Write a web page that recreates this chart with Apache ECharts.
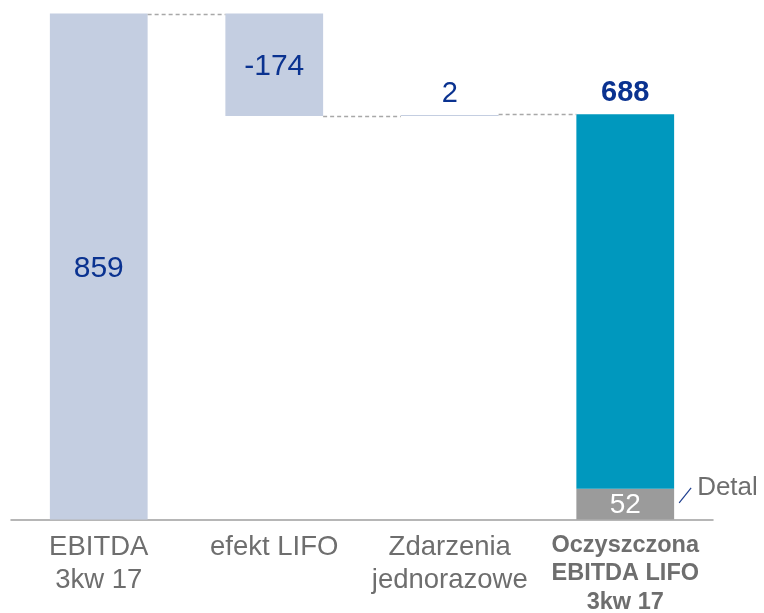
<!DOCTYPE html>
<html>
<head>
<meta charset="utf-8">
<script src="https://cdn.jsdelivr.net/npm/echarts@6/dist/echarts.min.js"></script>
<style>html,body{margin:0;padding:0;background:#fff;}#c{width:764px;height:613px;}</style>
</head>
<body>
<div id="c"></div>
<script>
var categories = ['EBITDA\n3kw 17', 'efekt LIFO', 'Zdarzenia\njednorazowe', 'Oczyszczona\nEBITDA LIFO\n3kw 17'];
var values = [859, -174, 2, 688];
var labelInside = [true, true, false, false];
var detalValue = 52;
var detalName = 'Detal';

var FONT = '"Liberation Sans", Arial, sans-serif';
var LIGHT = '#C4CEE1';
var TEAL = '#0098BE';
var GREY = '#9B9B9B';
var LABEL_BLUE = '#0A3290';
var AXIS_TEXT = '#6E6E6E';

// waterfall computation
var base = [], delta = [], levels = [];
var run = 0;
for (var i = 0; i < values.length; i++) {
  if (i === values.length - 1) {
    base.push(0); delta.push('-'); levels.push(values[i]);
  } else if (i === 0) {
    base.push(0); delta.push(values[i]); run = values[i]; levels.push(run);
  } else {
    var v = values[i];
    if (v < 0) { base.push(run + v); delta.push(-v); }
    else { base.push(run); delta.push(v); }
    run += v; levels.push(run);
  }
}
var last = values.length - 1;
var deltaItems = delta.map(function (d, i) {
  return {
    value: d,
    label: labelInside[i]
      ? { position: 'inside', fontSize: 30, offset: [0, 2] }
      : { position: 'top', distance: 6, fontSize: 29, lineHeight: 30 }
  };
});
var detalData = categories.map(function (c, i) { return i === last ? detalValue : '-'; });
var totalData = categories.map(function (c, i) { return i === last ? values[i] - detalValue : '-'; });
var connectorData = [];
for (var j = 0; j < values.length - 1; j++) {
  connectorData.push([j, j === values.length - 2 ? values[last] : levels[j]]);
}

var BAR_FRAC = 0.557;
var chart = echarts.init(document.getElementById('c'));
chart.setOption({
  animation: false,
  textStyle: { fontFamily: FONT },
  grid: { left: 11, right: 51, top: 13, bottom: 93.5, containLabel: false, outerBoundsMode: 'none' },
  xAxis: {
    type: 'category',
    data: categories,
    axisTick: { show: false },
    axisLine: { lineStyle: { color: '#9E9E9E', width: 1.5 } },
    axisLabel: {
      interval: 0,
      margin: 11.5,
      color: AXIS_TEXT,
      fontSize: 27.5,
      lineHeight: 33,
      fontFamily: FONT,
      formatter: function (val, idx) {
        if (idx === last) {
          return val.split('\n').map(function (s) { return '{b|' + s + '}'; }).join('\n');
        }
        return val;
      },
      rich: {
        b: { fontWeight: 'bold', fontSize: 23.5, lineHeight: 28.5, color: AXIS_TEXT, fontFamily: FONT }
      }
    }
  },
  yAxis: { type: 'value', min: 0, max: 860, show: false, splitLine: { show: false } },
  series: [
    {
      type: 'bar', stack: 'w', barWidth: (BAR_FRAC * 100) + '%',
      data: base, itemStyle: { color: 'transparent' }, silent: true
    },
    {
      type: 'bar', stack: 'w', data: deltaItems,
      itemStyle: { color: LIGHT },
      label: {
        show: true,
        formatter: function (p) { return String(values[p.dataIndex]); },
        color: LABEL_BLUE, fontFamily: FONT
      }
    },
    {
      type: 'bar', stack: 'w', data: detalData,
      itemStyle: { color: GREY },
      label: { show: true, position: 'inside', offset: [0, 1], color: '#fff', fontSize: 28, fontFamily: FONT,
        formatter: function (p) { return String(detalValue); } }
    },
    {
      type: 'bar', stack: 'w', data: totalData,
      itemStyle: { color: TEAL },
      label: { show: true, position: 'top', distance: 6, color: LABEL_BLUE, fontSize: 29, fontWeight: 'bold', lineHeight: 30, fontFamily: FONT,
        formatter: function (p) { return String(values[p.dataIndex]); } }
    },
    {
      type: 'custom',
      data: connectorData,
      silent: true,
      z: 5,
      renderItem: function (params, api) {
        var idx = api.value(0), lvl = api.value(1);
        var p1 = api.coord([idx, lvl]);
        var p2 = api.coord([idx + 1, lvl]);
        var w = api.size([1, 0])[0] * BAR_FRAC;
        var y = Math.round(p1[1]) + 0.5;
        return {
          type: 'line',
          shape: { x1: p1[0] + w / 2, y1: y, x2: p2[0] - w / 2, y2: y },
          style: { stroke: '#A8A8A8', lineWidth: 1.3, lineDash: [4, 3] }
        };
      }
    },
    {
      type: 'custom',
      data: [[last, detalValue]],
      silent: true,
      z: 6,
      renderItem: function (params, api) {
        var p = api.coord([api.value(0), api.value(1)]);
        var w = api.size([1, 0])[0] * BAR_FRAC;
        var x0 = p[0] + w / 2;
        return {
          type: 'group',
          children: [
            { type: 'line', shape: { x1: x0 + 5, y1: p[1] + 14, x2: x0 + 17, y2: p[1] - 1 },
              style: { stroke: '#1F3F8F', lineWidth: 1.2 } },
            { type: 'text', style: { x: x0 + 23, y: p[1] - 1, text: detalName, fill: '#6E6E6E',
              fontSize: 26, fontFamily: FONT, verticalAlign: 'middle', align: 'left' } }
          ]
        };
      }
    }
  ]
});
</script>
</body>
</html>
